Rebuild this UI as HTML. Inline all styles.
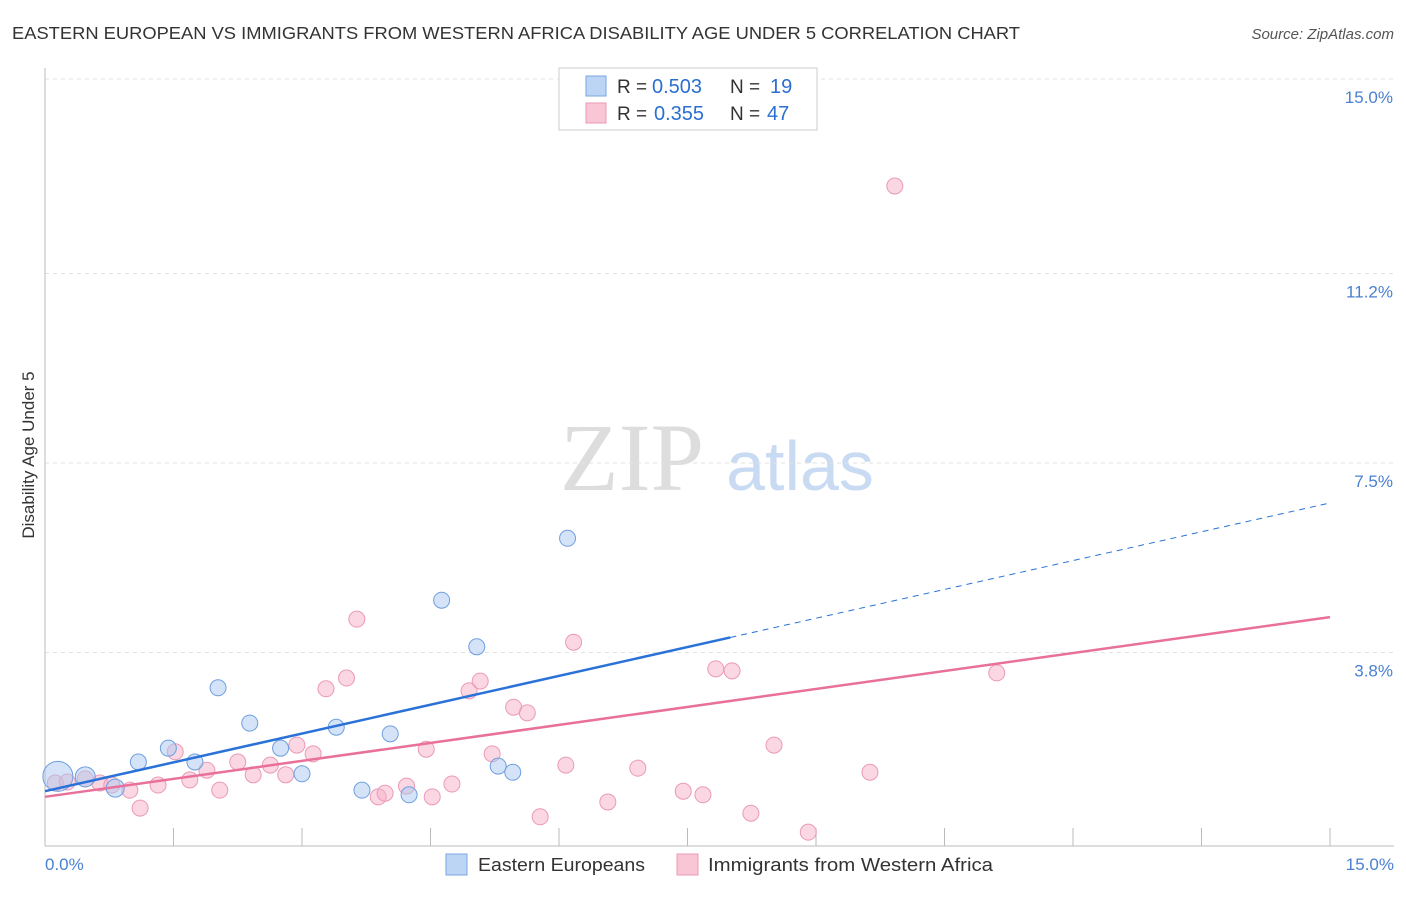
<!DOCTYPE html>
<html><head><meta charset="utf-8"><style>
body{margin:0;background:#fff;font-family:"Liberation Sans",sans-serif;}
</style></head><body>
<svg width="1406" height="892" xmlns="http://www.w3.org/2000/svg">
<text x="12" y="39" font-size="17.5" fill="#333" textLength="1008" lengthAdjust="spacingAndGlyphs">EASTERN EUROPEAN VS IMMIGRANTS FROM WESTERN AFRICA DISABILITY AGE UNDER 5 CORRELATION CHART</text>
<text x="1394" y="39" font-size="15" fill="#555" text-anchor="end" font-style="italic">Source: ZipAtlas.com</text>
<text x="632" y="490" font-size="96" fill="#ddd" font-family="Liberation Serif,serif" text-anchor="middle">ZIP</text>
<text x="800" y="490" font-size="70" fill="#c9daf3" text-anchor="middle">atlas</text>
<g id="grid"></g>
<g id="axes"></g>
<g id="marks"></g>
<text transform="translate(34,455) rotate(-90)" font-size="17" fill="#333" text-anchor="middle">Disability Age Under 5</text>
<text x="45" y="870" font-size="17" fill="#4a80d0">0.0%</text>
<text x="1394" y="870" font-size="17" fill="#4a80d0" text-anchor="end">15.0%</text>
<g>
<rect x="559" y="68" width="258" height="62" fill="#fff" stroke="#ccc"/>
<rect x="586" y="76" width="20" height="20" fill="#bcd5f5" stroke="#7aa6e0"/>
<rect x="586" y="103" width="20" height="20" fill="#f9c6d5" stroke="#e99ab4"/>
<text x="617" y="93" font-size="19" fill="#333">R =</text>
<text x="652" y="93" font-size="20" fill="#2a6fd0">0.503</text>
<text x="730" y="93" font-size="19" fill="#333">N =</text>
<text x="770" y="93" font-size="20" fill="#2a6fd0">19</text>
<text x="617" y="120" font-size="19" fill="#333">R =</text>
<text x="654" y="120" font-size="20" fill="#2a6fd0">0.355</text>
<text x="730" y="120" font-size="19" fill="#333">N =</text>
<text x="767" y="120" font-size="20" fill="#2a6fd0">47</text>
</g>
<g>
<rect x="446" y="854" width="21" height="21" fill="#bcd5f5" stroke="#7aa6e0"/>
<text x="478" y="871" font-size="18" fill="#333" textLength="167" lengthAdjust="spacingAndGlyphs">Eastern Europeans</text>
<rect x="677" y="854" width="21" height="21" fill="#f9c6d5" stroke="#e99ab4"/>
<text x="708" y="871" font-size="18" fill="#333" textLength="285" lengthAdjust="spacingAndGlyphs">Immigrants from Western Africa</text>
</g>
</svg>
<script>
const yTicks=[3.8,7.5,11.2,15.0];
const xTicks=[0,1.5,3,4.5,6,7.5,9,10.5,12,13.5,15];
const blueX=[0.15,0.47,0.82,1.09,1.44,1.75,2.02,2.39,2.75,3.0,3.4,3.7,4.03,4.25,4.63,5.04,5.29,5.46,6.1];
const blueY=[1.38,1.37,1.15,1.66,1.93,1.66,3.11,2.42,1.93,1.43,2.34,1.11,2.21,1.02,4.82,3.91,1.58,1.46,6.03];
const blueR=[15,10,9,8,8,8,8,8,8,8,8,8,8,8,8,8,8,8,8];
const pinkX=[0.12,0.26,0.47,0.64,0.78,0.99,1.11,1.32,1.52,1.69,1.89,2.04,2.25,2.43,2.63,2.81,2.94,3.13,3.28,3.52,3.64,3.89,3.97,4.22,4.45,4.52,4.75,4.95,5.08,5.22,5.47,5.63,5.78,6.08,6.17,6.57,6.92,7.45,7.68,7.83,8.02,8.24,8.51,8.91,9.63,9.92,11.11];
const pinkY=[1.25,1.27,1.33,1.25,1.21,1.11,0.76,1.21,1.86,1.31,1.5,1.11,1.66,1.41,1.6,1.41,1.99,1.82,3.09,3.3,4.45,0.98,1.05,1.19,1.91,0.98,1.23,3.05,3.24,1.82,2.73,2.62,0.59,1.6,4.0,0.88,1.54,1.09,1.02,3.48,3.44,0.66,1.99,0.29,1.46,12.91,3.4];
const blueLine=[1.09,6.72]; const blueSolidEnd=8.0;
const pinkLine=[0.98,4.49];
const NS="http://www.w3.org/2000/svg";
const X=v=>45+v/15*1285, Y=v=>847-v*51.2;
function mk(t,a,p){const e=document.createElementNS(NS,t);for(const k in a)e.setAttribute(k,a[k]);p.appendChild(e);return e;}
const grid=document.getElementById('grid'),axes=document.getElementById('axes'),marks=document.getElementById('marks');
yTicks.forEach(t=>{const l=mk('line',{x1:45,x2:1394,y1:Y(t),y2:Y(t),stroke:'#e2e2e2','stroke-dasharray':'4,4'},grid);


const tx=mk('text',{x:1393,y:Y(t)+24,'font-size':17,fill:'#4a80d0','text-anchor':'end'},grid);tx.textContent=t.toFixed(1)+'%';

});
const ax=mk('line',{x1:45,x2:45,y1:68,y2:846,stroke:'#bbb'},axes);


const bx=mk('line',{x1:45,x2:1394,y1:846,y2:846,stroke:'#bbb'},axes);


xTicks.forEach(t=>{const l=mk('line',{x1:X(t),x2:X(t),y1:828,y2:846,stroke:'#bbb'},axes);

});
pinkX.forEach((x,i)=>{const c=mk('circle',{cx:X(x),cy:Y(pinkY[i]),r:8,fill:'rgba(246,176,198,0.5)',stroke:'#eb9ab5','stroke-width':1},marks);

});
blueX.forEach((x,i)=>{const c=mk('circle',{cx:X(x),cy:Y(blueY[i]),r:blueR[i],fill:'rgba(170,200,240,0.5)',stroke:'#6f9fe0','stroke-width':1},marks);

});
const bAt=x=>blueLine[0]+(blueLine[1]-blueLine[0])*x/15;
const b1=mk('line',{x1:X(0),y1:Y(bAt(0)),x2:X(blueSolidEnd),y2:Y(bAt(blueSolidEnd)),stroke:'#2a72d8','stroke-width':2.5},marks);


const b2=mk('line',{x1:X(blueSolidEnd),y1:Y(bAt(blueSolidEnd)),x2:X(15),y2:Y(bAt(15)),stroke:'#2a72d8','stroke-width':1,'stroke-dasharray':'6,5'},marks);


const p1=mk('line',{x1:X(0),y1:Y(pinkLine[0]),x2:X(15),y2:Y(pinkLine[1]),stroke:'#e8709a','stroke-width':2.5},marks);


</script>
</body></html>
